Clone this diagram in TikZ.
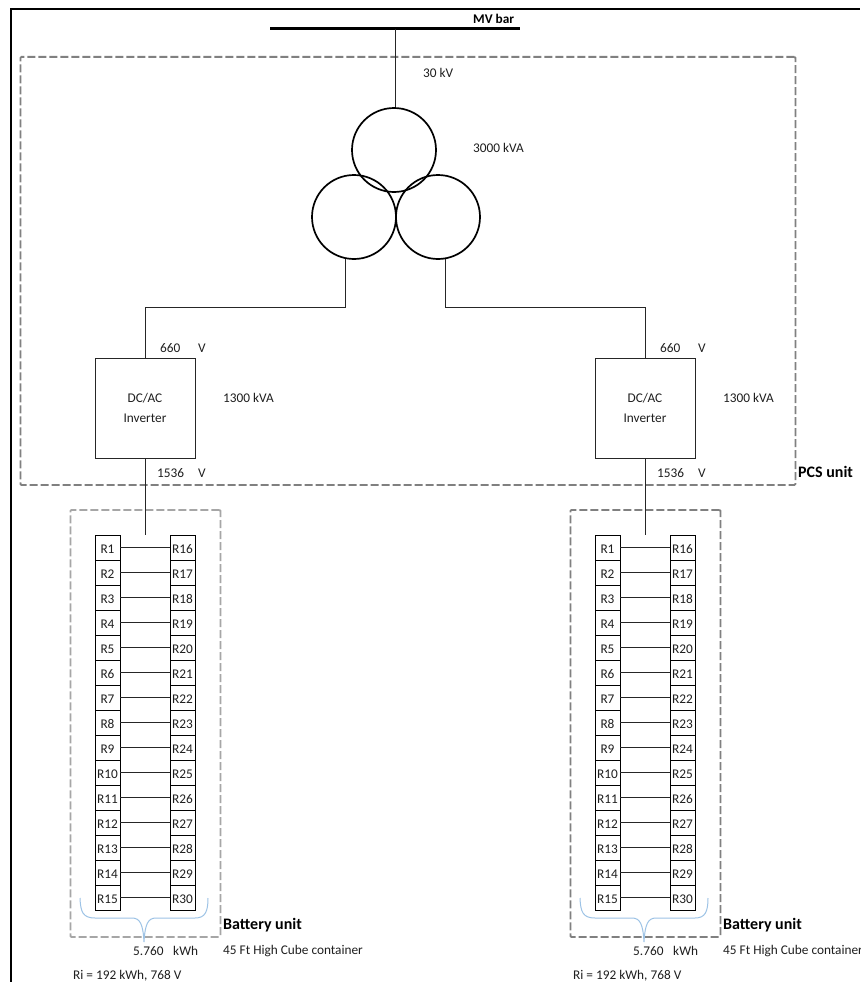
\documentclass[tikz,border=0pt]{standalone}
\usepackage{fontspec}
\setmainfont{Carlito}
\definecolor{dashgray}{HTML}{808080}
\definecolor{dashlight}{HTML}{A6A6A6}
\definecolor{bracecol}{HTML}{9DC3E6}
\definecolor{txt}{HTML}{1F1F1F}
\tikzset{
  wire/.style={line width=1pt,black!85},
  unitbox/.style={draw=dashgray,line width=1.8pt,dash pattern=on 8pt off 3pt,rounded corners=1pt},
  coil/.style={circle,draw,line width=1.7pt,minimum size=84pt,inner sep=0pt},
  inverter/.style={draw,black!85,line width=1pt,minimum size=100pt,inner sep=0pt,align=center,font=\fontsize{13.3}{19.5}\selectfont,text=txt},
  rack/.style={draw,line width=0.9pt,minimum width=25pt,minimum height=25pt,inner sep=0pt,text height=12.4pt,text depth=0pt,font=\fontsize{13.3}{13}\selectfont,text=txt},
  lbl/.style={anchor=west,inner sep=0pt,font=\fontsize{13.3}{14}\selectfont,text=txt},
  boldlbl/.style={anchor=west,inner sep=0pt,font=\fontsize{16}{17}\selectfont\bfseries,text=black},
  bracepath/.style={draw=bracecol,line width=1pt}
}
\begin{document}
\begin{tikzpicture}[x=1pt,y=-1pt]
\useasboundingbox (0,0) rectangle (860,982);
\clip (0,0) rectangle (860,982);
\fill[white] (0,0) rectangle (860,982);
% outer frame
\coordinate (frameBL) at (10.5,982);
\coordinate (frameTL) at (10.5,9);
\coordinate (frameTR) at (860,9);
\draw[line width=2pt,black] (frameBL) -- (frameTL) -- (frameTR);
% dashed units
\node[unitbox,minimum width=775pt,minimum height=428pt,inner sep=0pt,anchor=north west] (pcs) at (19.5,56) {};
% bar
\coordinate (barL) at (270,29);
\coordinate (barR) at (520,29);
\coordinate (barTap) at (395,29);
\draw[line width=3pt,black] (barL) -- (barR);
\node[boldlbl,font=\fontsize{13.3}{14}\selectfont\bfseries] (mvlabel) at (473,19) {MV bar};
% transformer
\node[coil] (coilT) at (394,150) {};
\node[coil] (coilL) at (354,217) {};
\node[coil] (coilR) at (438,217) {};
\draw[wire] (barTap) -- (barTap |- coilT.north);
\node[lbl] (kv) at (423,73) {30 kV};
\node[lbl] (kva) at (473,148) {3000 kVA};
\node[boldlbl] (pcslabel) at (798,472) {PCS unit};
\foreach \u/\dx/\boxcol in {a/0/dashlight,b/500/dashgray}{
  \begin{scope}[xshift=\dx pt]
    \node[inverter] (inv\u) at (145,408) {DC/AC\\Inverter};
    \node[lbl] (vac\u) at (160,348) {660};
    \node[lbl] (vacu\u) at (198,348) {V};
    \node[lbl] (pw\u) at (223,398) {1300 kVA};
    \node[lbl] (vdc\u) at (157,473) {1536};
    \node[lbl] (vdcu\u) at (198,473) {V};
    \node[unitbox,draw=\boxcol,minimum width=150pt,minimum height=427pt,inner sep=0pt,anchor=north west] (batt\u) at (69.5,509) {};
    \foreach \i [evaluate=\i as \yy using {547.5+25*(\i-1)},evaluate=\i as \j using {int(\i+15)}] in {1,...,15}{
      \node[rack] (r\u\i) at (107.5,\yy) {R\i};
      \node[rack] (r\u\j) at (182.5,\yy) {R\j};
      \draw[wire] (r\u\i.east) -- (r\u\j.west);
    }
    \coordinate (drop\u) at (145,535);
    \draw[bracepath] (80,898) .. controls (80.5,912) and (83,918) .. (95,918)
       -- (132,918) .. controls (140,918) and (143,924) .. (144,942)
       .. controls (145,924) and (148,918) .. (156,918)
       -- (195,918) .. controls (205,918) and (208,912) .. (208,898);
    \node[boldlbl] (battlabel\u) at (223,925) {Battery unit};
    \node[lbl] (kwh\u) at (133,951) {5.760};
    \node[lbl] (kwhu\u) at (173,951) {kWh};
    \node[lbl] (cont\u) at (223,951) {45 Ft High Cube container};
    \node[lbl] (ri\u) at (73,976) {Ri = 192 kWh, 768 V};
  \end{scope}
}
\coordinate (busL) at (145,307);
\coordinate (busR) at (645,307);
\draw[wire] (coilL.-102) |- (busL) -- (inva.north);
\draw[wire] (coilR.-80) |- (busR) -- (invb.north);
\draw[wire] (inva.south) -- (dropa);
\draw[wire] (invb.south) -- (dropb);
\end{tikzpicture}
\end{document}
